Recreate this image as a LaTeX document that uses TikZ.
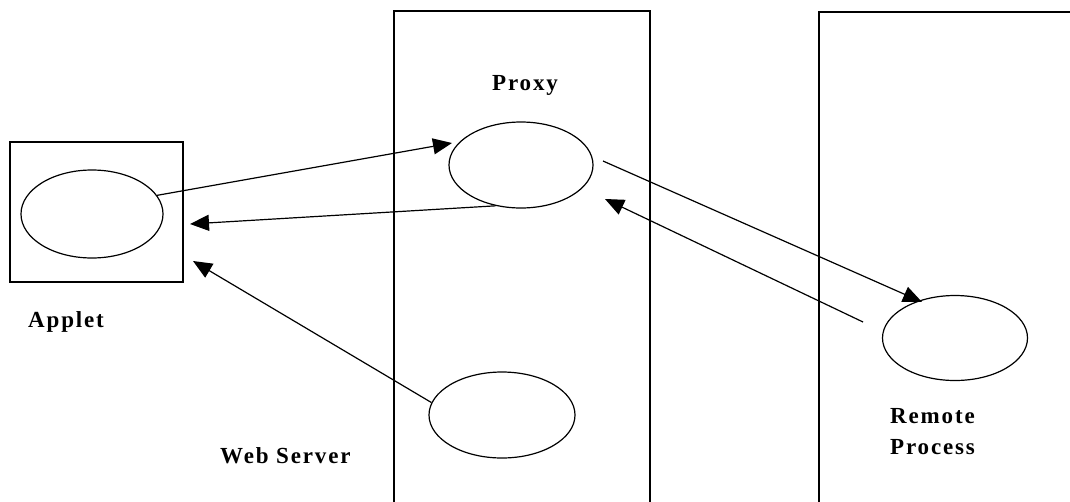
\documentclass[tikz,border=0pt]{standalone}
\usepackage{fontspec}
\setmainfont{Liberation Serif}
\usetikzlibrary{shapes.geometric,arrows.meta}
\tikzset{
  oval/.style={ellipse,draw,line width=1.2pt,inner sep=0pt},
  frame/.style={draw,line width=1.6pt},
  conn/.style={line width=1.2pt,-{Triangle[length=19pt,width=16pt]}},
  lbl/.style={font=\fontsize{23}{31}\selectfont\bfseries\addfontfeature{LetterSpace=8},inner sep=0pt}
}
\begin{document}
\begin{tikzpicture}[x=1pt,y=-1pt]
\useasboundingbox (0,0) rectangle (1070,501);
% columns
\draw[frame] (394,502) -- (394,11) -- (650,11) -- (650,502);
\draw[frame] (819,502) -- (819,12) -- (1072,12);
% applet box
\node[frame,minimum width=173pt,minimum height=140pt,inner sep=0pt] (appletbox) at (96.5,212) {};
% ellipses
\node[oval,minimum width=142pt,minimum height=88pt] (applet) at (92,214) {};
\node[oval,minimum width=144pt,minimum height=86pt] (proxy) at (521,165) {};
\node[oval,minimum width=146pt,minimum height=86pt] (web) at (502,415) {};
\node[oval,minimum width=145pt,minimum height=85pt] (remote) at (955,338) {};
% labels
\node[lbl] (tproxy) at (525,85) {Proxy};
\node[lbl,anchor=west] (tapplet) at (28,322) {Applet};
\node[lbl,anchor=west] (tweb) at (220,456) {Web Server};
\node[lbl,anchor=west,align=left] (tremote) at (890,432) {Remote\\Process};
% connector ends
\coordinate (t1) at (452,143);
\coordinate (t2) at (190,224);
\coordinate (s3) at (603,161);
\coordinate (t3) at (922,302);
\coordinate (s4) at (863,322);
\coordinate (t4) at (605,199);
\coordinate (t5) at (193,261);
% connectors
\draw[conn] (applet.16) -- (t1);
\draw[conn] (proxy.-122) -- (t2);
\draw[conn] (s3) -- (t3);
\draw[conn] (s4) -- (t4);
\draw[conn] (web.170) -- (t5);
\end{tikzpicture}
\end{document}
